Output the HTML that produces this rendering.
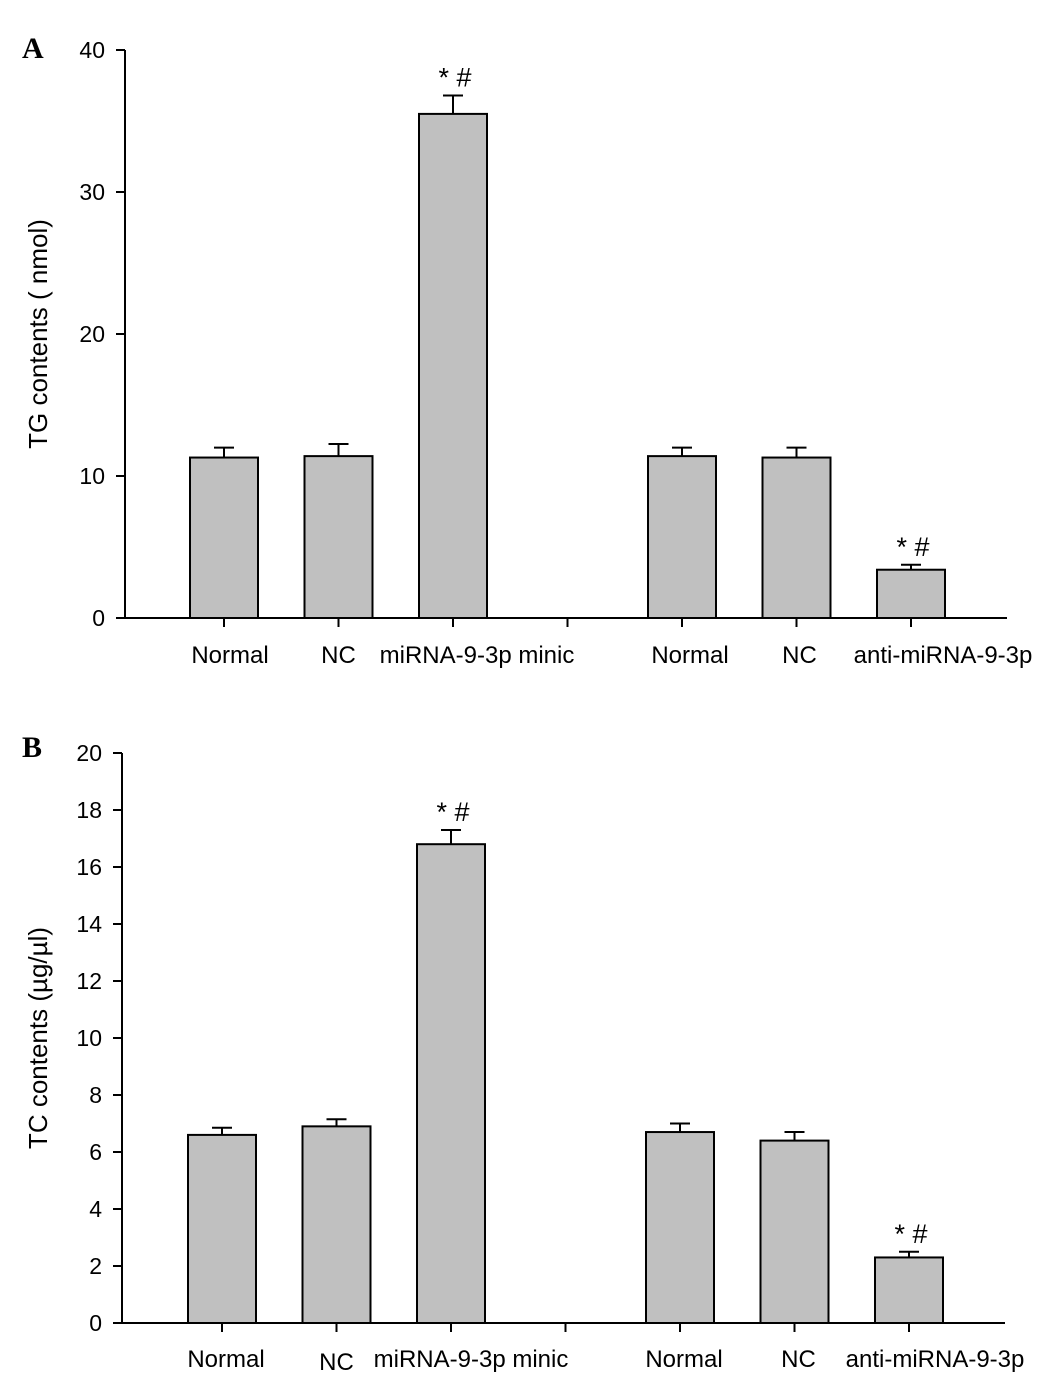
<!DOCTYPE html>
<html><head><meta charset="utf-8"><style>
html,body{margin:0;padding:0;background:#fff;}
svg{display:block;font-family:"Liberation Sans",Arial,sans-serif;}
</style></head><body>
<svg id="chart" width="1046" height="1386" viewBox="0 0 1046 1386"></svg>
<script>
const categoriesA = ["Normal","NC","miRNA-9-3p minic","","Normal","NC","anti-miRNA-9-3p"];
const valuesA = [11.3,11.4,35.5,null,11.4,11.3,3.4];
const errorsA = [0.7,0.85,1.3,null,0.6,0.7,0.35];
const sigA = ["","","*#","","","","*#"];
const ticksA = [0,10,20,30,40];
const categoriesB = ["Normal","NC","miRNA-9-3p minic","","Normal","NC","anti-miRNA-9-3p"];
const valuesB = [6.6,6.9,16.8,null,6.7,6.4,2.3];
const errorsB = [0.25,0.25,0.5,null,0.3,0.3,0.2];
const sigB = ["","","*#","","","","*#"];
const ticksB = [0,2,4,6,8,10,12,14,16,18,20];

const NS="http://www.w3.org/2000/svg";
const svg=document.getElementById('chart');
function mk(tag,attrs,parent){const e=document.createElementNS(NS,tag);for(const k in attrs)e.setAttribute(k,attrs[k]);(parent||svg).appendChild(e);return e;}

function panel(cfg){
  const g=mk('g',{});
  
  
  const y=v=>cfg.y0-(v-cfg.min)/(cfg.max-cfg.min)*(cfg.y0-cfg.y1);
  const x=i=>cfg.xc0+i*cfg.step;
  const L=mk('text',{x:cfg.letterX,y:cfg.letterY,'font-size':30,'font-weight':'bold','font-family':'Liberation Serif,serif'},g);L.textContent=cfg.letter;
  
  
  const ya=mk('line',{x1:cfg.ax,y1:y(cfg.max),x2:cfg.ax,y2:cfg.y0,stroke:'#000','stroke-width':2},g);
  
  
  const xa=mk('line',{x1:cfg.ax-9,y1:cfg.y0,x2:cfg.xend,y2:cfg.y0,stroke:'#000','stroke-width':2},g);
  
  
  cfg.ticks.forEach(t=>{
    mk('line',{x1:cfg.ax-9,y1:y(t),x2:cfg.ax,y2:y(t),stroke:'#000','stroke-width':2},g);
    const tl=mk('text',{x:cfg.ax-20,y:y(t)+8,'font-size':23,'text-anchor':'end'},g);tl.textContent=t;
    
    
  });
  const yt=mk('text',{x:0,y:0,'font-size':26,'text-anchor':'middle',transform:`translate(${cfg.titleX},${(cfg.y0+y(cfg.max))/2}) rotate(-90)`},g);
  yt.textContent=cfg.title;
  
  
  cfg.cats.forEach((c,i)=>{
    mk('line',{x1:x(i),y1:cfg.y0,x2:x(i),y2:cfg.y0+9,stroke:'#000','stroke-width':2},g);
    if(c){const cl=mk('text',{x:x(i)+(cfg.labDx[i]||0),y:cfg.labY+(cfg.labDy[i]||0),'font-size':24,'text-anchor':'middle'},g);cl.textContent=c;
      
      }
    const v=cfg.vals[i]; if(v==null) return;
    const e=cfg.errs[i];
    const eb=mk('path',{d:`M${x(i)},${y(v)} V${y(v+e)} M${x(i)-10},${y(v+e)} H${x(i)+10}`,stroke:'#000','stroke-width':2,fill:'none'},g);
    
    
    const b=mk('rect',{x:x(i)-34,y:y(v),width:68,height:cfg.y0-y(v),fill:'#c0c0c0',stroke:'#000','stroke-width':2},g);
    
    
    if(cfg.sig[i]){const s=mk('text',{x:x(i)+2,y:y(v+e)-9,'font-size':27,'text-anchor':'middle'},g);s.textContent=cfg.sig[i].split('').join(' ');
      
      }
  });
}
panel({name:'panel-a-tg-chart',letter:'A',letterX:22,letterY:58,y0:618,y1:50,min:0,max:40,ax:125,xend:1007,xc0:224,step:114.5,
  ticks:ticksA,cats:categoriesA,vals:valuesA,errs:errorsA,sig:sigA,title:'TG contents ( nmol)',titleX:47,labY:663,labDx:[6,0,24,0,8,3,32],labDy:[]});
panel({name:'panel-b-tc-chart',letter:'B',letterX:22,letterY:757,y0:1323,y1:753,min:0,max:20,ax:122,xend:1005,xc0:222,step:114.5,
  ticks:ticksB,cats:categoriesB,vals:valuesB,errs:errorsB,sig:sigB,title:'TC contents (µg/µl)',titleX:47,labY:1367,labDx:[4,0,20,0,4,4,26],labDy:[0,3,0,0,0,0,0]});
</script>
</body></html>
